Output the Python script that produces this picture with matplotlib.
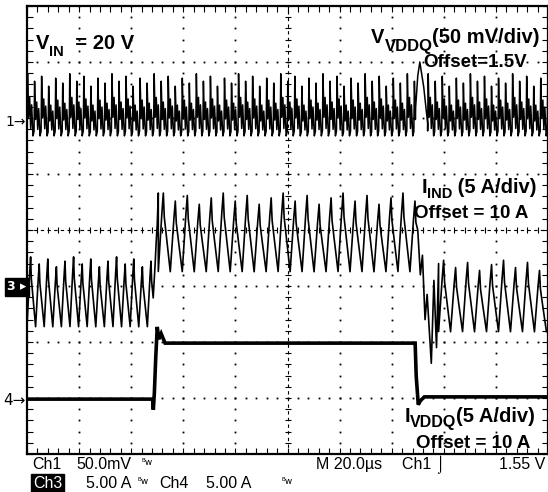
import numpy as np
import matplotlib.pyplot as plt

# время в мкс (20 мкс/дел, 10 дел), амплитуда в делениях (8 дел)
T_END = 200.0

# --- Ch1: V_VDDQ (50 mV/div), пульсации ---
v_band = (1.68, 2.79)                 # низ / верх полосы пульсаций
v_period = 2.7
v_phase = [0.0, 0.08, 0.22, 0.38, 0.52, 0.66, 0.85, 1.0]
v_level = [0.08, 1.0, 0.30, 0.62, 0.12, 0.50, 0.0, 0.08]
v_peak = [1.0, 0.88, 0.96, 0.80, 0.93, 0.85]      # высота пиков по циклам
v_glitch_t = [149.2, 150.0, 150.8, 152.3, 153.8]  # выброс при сбросе нагрузки
v_glitch_y = [2.20, 2.75, 3.00, 2.55, 1.90]

# --- Ch3: I_IND (5 A/div) ---
ind_seg_t0 = [0.0, 50.4, 158.0]
ind_seg_t1 = [49.2, 150.0, 200.0]
ind_seg_period = [3.3, 4.6, 4.6]
ind_seg_lo = [-1.75, -0.77, -1.84]
ind_seg_hi = [-0.48, 0.66, -0.54]
ind_phase = [0.0, 0.30, 0.42, 0.50, 0.68, 1.0]
ind_level = [0.02, 0.75, 1.0, 0.70, 0.45, 0.02]
ind_peak = [1.0, 0.90, 0.97, 0.86, 0.94]
ind_up_t = [49.2, 49.6, 50.0, 50.4]
ind_up_y = [-0.60, -0.20, 0.10, 0.66]
ind_dn_t = [150.0, 151.0, 151.8, 152.8, 153.6, 155.2, 156.2, 157.2, 158.0]
ind_dn_y = [0.00, -0.80, -0.45, -1.60, -1.15, -2.38, -0.90, -2.10, -0.60]

# --- Ch4: I_VDDQ (5 A/div) ---
io_t = [0, 48.2, 48.5, 48.9, 49.4, 50.0, 50.6, 51.5, 53.0, 149.0, 149.4, 150.2, 151.0, 152.5, 200]
io_y = [-3.02, -3.02, -3.21, -2.90, -2.30, -1.73, -1.95, -1.85, -2.02, -2.02, -2.60, -3.12, -3.05, -2.98, -2.98]


def ripple(t0, t1, period, phase, level, peak, lo, hi):
    ts, ys = [], []
    k = 0
    while t0 + period * k < t1:
        a = peak[k % len(peak)]
        for p, l in zip(phase[:-1], level[:-1]):
            t = t0 + period * (k + p)
            if t < t1:
                ts.append(t)
                ys.append(lo + (hi - lo) * l * a)
        k += 1
    return ts, ys


fig = plt.figure(figsize=(5.48, 4.92), dpi=100)
ax = fig.add_axes([27 / 548, 38 / 492, 521 / 548, 448 / 492])
ax.set_xlim(0, T_END)
ax.set_ylim(-4, 4)

# сетка: точки каждые 1/5 деления
minor_x = np.arange(0, T_END + 0.01, 4)
minor_y = np.arange(-4, 4.01, 0.2)
for gx in range(20, 200, 20):
    if gx == 100:
        continue
    ax.plot(np.full_like(minor_y, gx), minor_y, ls='none', marker='s', ms=1.3, color='k', mew=0)
for gy in range(-3, 4):
    if gy == 0:
        continue
    ax.plot(minor_x, np.full_like(minor_x, gy), ls='none', marker='s', ms=1.3, color='k', mew=0)
# центральные линии
ax.plot([0, T_END], [0, 0], color='k', lw=0.8, ls=(0, (3, 3)))
ax.plot(minor_x, np.zeros_like(minor_x), ls='none', marker='|', ms=5, color='k', mew=0.8)
ax.plot([100, 100], [-4, 4], color='k', lw=0.8, ls=(0, (3, 3)))
ax.plot(np.full_like(minor_y, 100), minor_y, ls='none', marker='_', ms=5, color='k', mew=0.8)

# Ch1
t1a, y1a = ripple(0, v_glitch_t[0], v_period, v_phase, v_level, v_peak, *v_band)
t1b, y1b = ripple(v_glitch_t[-1], T_END, v_period, v_phase, v_level, v_peak, *v_band)
ax.plot(t1a + v_glitch_t + t1b, y1a + v_glitch_y + y1b, color='k', lw=1.1)

# Ch3
t3, y3 = [], []
for i in range(3):
    ts, ys = ripple(ind_seg_t0[i], ind_seg_t1[i], ind_seg_period[i], ind_phase, ind_level,
                    ind_peak, ind_seg_lo[i], ind_seg_hi[i])
    t3 += ts
    y3 += ys
    if i == 0:
        t3 += ind_up_t
        y3 += ind_up_y
    elif i == 1:
        t3 += ind_dn_t
        y3 += ind_dn_y
ax.plot(t3, y3, color='k', lw=1.2)

# Ch4
ax.plot(io_t, io_y, color='k', lw=2.6, solid_joinstyle='miter')

ax.set_xticks(np.arange(0, 201, 20))
ax.set_yticks(np.arange(-4, 5, 1))
ax.set_xticks(minor_x, minor=True)
ax.set_yticks(minor_y, minor=True)
ax.tick_params(which='both', direction='in', length=4, width=0.8, top=True, right=True,
               labelbottom=False, labelleft=False)
for s in ax.spines.values():
    s.set_linewidth(1.6)

renderer = fig.canvas.get_renderer()


def ftext(x, y, s, **kw):
    kw.setdefault('family', 'Liberation Sans')
    kw.setdefault('weight', 'bold')
    kw.setdefault('fontsize', 13.5)
    kw.setdefault('va', 'baseline')
    return fig.text(x / 548, 1 - y / 492, s, **kw)


def rich(x, y, parts, ha='left'):
    # parts: (текст, размер, сдвиг вниз в px)
    objs = [ftext(0, 0, s, fontsize=size) for s, size, dy in parts]
    widths = [o.get_window_extent(renderer).width for o in objs]
    cx = x - sum(widths) if ha == 'right' else x
    for o, w, (s, size, dy) in zip(objs, widths, parts):
        o.set_position((cx / 548, 1 - (y + dy) / 492))
        cx += w


rich(36, 49, [('V', 14.5, 0), ('IN', 10.5, 7), ('  = 20 V', 14.5, 0)])
rich(540, 43, [('V', 14.5, 0), ('VDDQ', 12, 8), ('(50 mV/div)', 14.5, 0)], ha='right')
ftext(527, 67, 'Offset=1.5V', ha='right')
rich(537, 193, [('I', 14.5, 0), ('IND', 10.5, 5), (' (5 A/div)', 14.5, 0)], ha='right')
ftext(528, 218, 'Offset = 10 A', ha='right')
rich(535, 422, [('I', 14.5, 0), ('VDDQ', 11.5, 5), ('(5 A/div)', 14.5, 0)], ha='right')
ftext(530, 448, 'Offset = 10 A', ha='right')

# маркеры каналов
ftext(26, 126, '1→', ha='right', fontsize=10, weight='normal', family='DejaVu Sans')
ftext(26, 405, '4→', ha='right', fontsize=11, weight='normal', family='DejaVu Sans')
fig.text(7 / 548, 1 - 287 / 492, '3 ▸', color='white', fontsize=9, weight='bold',
         family='DejaVu Sans', va='center',
         bbox=dict(boxstyle='square,pad=0.2', fc='black', ec='black'))

# строка состояния осциллографа
st = dict(family='Liberation Sans', weight='normal', fontsize=11.5)
bw = dict(fontsize=6.5, weight='normal', family='DejaVu Sans')
ftext(32, 469, 'Ch1', **st)
ftext(76, 469, '50.0mV', **st)
ftext(141, 465, 'ᴮw', **bw)
ftext(316, 469, 'M 20.0µs', **st)
ftext(402, 469, 'Ch1 ⌡', **st)
ftext(545, 469, '1.55 V', ha='right', **st)
fig.text(33 / 548, 1 - 488 / 492, 'Ch3', color='white', va='baseline',
         bbox=dict(boxstyle='square,pad=0.1', fc='black', ec='black'), **st)
ftext(86, 488, '5.00 A', **st)
ftext(137, 484, 'ᴮw', **bw)
ftext(159, 488, 'Ch4', **st)
ftext(206, 488, '5.00 A', **st)
ftext(281, 484, 'ᴮw', **bw)

fig.savefig('out.png', dpi=100)
